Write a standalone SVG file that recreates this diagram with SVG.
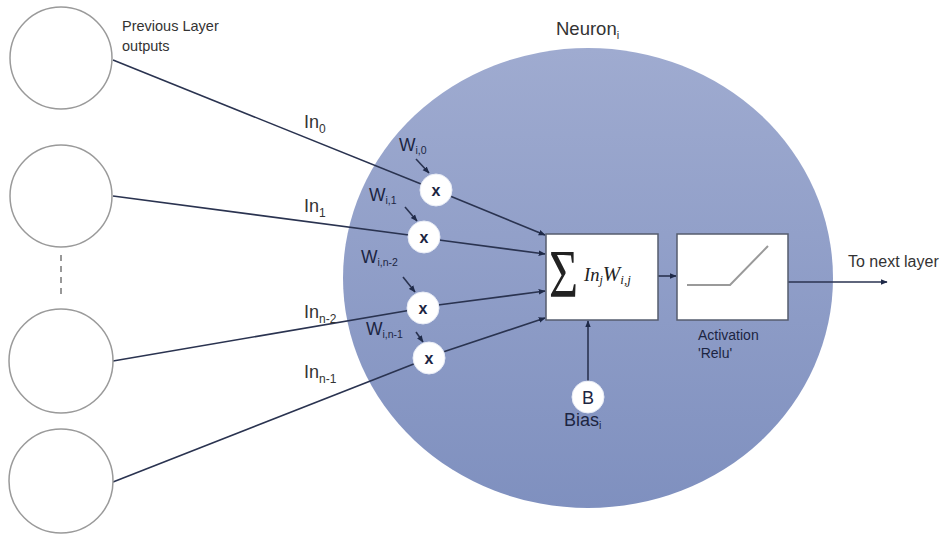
<svg xmlns="http://www.w3.org/2000/svg" width="947" height="535" viewBox="0 0 947 535">
  <defs>
    <linearGradient id="bodyFill" x1="0" y1="0" x2="0" y2="1">
      <stop offset="0" stop-color="#9fabd0"/>
      <stop offset="1" stop-color="#7f90bf"/>
    </linearGradient>
    <marker id="arrow" viewBox="0 0 10 10" refX="9" refY="5" markerWidth="7" markerHeight="7" orient="auto" markerUnits="userSpaceOnUse">
      <path d="M0,1 L10,5 L0,9 z" fill="#1f2a48"/>
    </marker>
    <style>
      .src { fill: #ffffff; stroke: #9a9a9a; stroke-width: 1.5; }
      .wire { fill: none; stroke: #2a3350; stroke-width: 1.6; }
      .mul { fill: #ffffff; stroke: #e8ecf6; stroke-width: 1; }
      .box { fill: #ffffff; stroke: #555c6e; stroke-width: 1.5; }
      .lbl { font-family: "Liberation Sans", Arial, sans-serif; fill: #333333; }
      .inner { font-family: "Liberation Sans", Arial, sans-serif; fill: #1c2542; }
      .math { font-family: "Liberation Serif", "Times New Roman", serif; fill: #222222; }
    </style>
  </defs>

  <!-- neuron body -->
  <g id="neuron-body">
    <ellipse cx="588" cy="278" rx="245" ry="230" fill="url(#bodyFill)"/>
    <text class="lbl" x="556" y="35" font-size="18.5" fill="#444">Neuron<tspan font-size="11" dy="4">i</tspan></text>
  </g>

  <!-- connectors -->
  <g id="connectors">
    <!-- inputs into multipliers -->
    <line class="wire" x1="113" y1="60" x2="436" y2="190"/>
    <line class="wire" x1="113" y1="196" x2="424" y2="237"/>
    <line class="wire" x1="113" y1="361" x2="423" y2="308"/>
    <line class="wire" x1="113" y1="482" x2="429" y2="358"/>
    <!-- multipliers into summation -->
    <line class="wire" x1="450" y1="196" x2="545" y2="235" marker-end="url(#arrow)"/>
    <line class="wire" x1="439" y1="240" x2="545" y2="254" marker-end="url(#arrow)"/>
    <line class="wire" x1="438" y1="305" x2="545" y2="291" marker-end="url(#arrow)"/>
    <line class="wire" x1="443" y1="352" x2="545" y2="318" marker-end="url(#arrow)"/>
    <!-- weights into multipliers -->
    <line class="wire" x1="416" y1="159" x2="429" y2="173" marker-end="url(#arrow)"/>
    <line class="wire" x1="405" y1="207" x2="417" y2="221" marker-end="url(#arrow)"/>
    <line class="wire" x1="403" y1="277" x2="415" y2="292" marker-end="url(#arrow)"/>
    <line class="wire" x1="416" y1="332" x2="423" y2="342" marker-end="url(#arrow)"/>
    <!-- summation to activation -->
    <line class="wire" x1="658" y1="276" x2="676" y2="276" marker-end="url(#arrow)"/>
    <!-- bias -->
    <line class="wire" x1="588" y1="381" x2="588" y2="321" marker-end="url(#arrow)"/>
    <!-- output -->
    <line class="wire" x1="788" y1="282" x2="887" y2="282" marker-end="url(#arrow)"/>
    <!-- ellipsis between source nodes -->
    <line x1="61" y1="255" x2="61" y2="296" stroke="#777" stroke-width="1.5" stroke-dasharray="6,5"/>
  </g>

  <!-- previous layer outputs -->
  <g id="src-0">
    <circle class="src" cx="61" cy="58" r="51"/>
    <text class="lbl" x="122" y="31" font-size="14.5" fill="#444">Previous Layer</text>
    <text class="lbl" x="122" y="51" font-size="14.5" fill="#444">outputs</text>
  </g>
  <g id="src-1"><circle class="src" cx="61" cy="196" r="51"/></g>
  <g id="src-n-2"><circle class="src" cx="61" cy="361" r="52"/></g>
  <g id="src-n-1"><circle class="src" cx="61" cy="481" r="52"/></g>

  <!-- input labels -->
  <g id="input-labels">
    <text class="lbl" x="304" y="128" font-size="18">In<tspan font-size="12" dy="5">0</tspan></text>
    <text class="lbl" x="304" y="212" font-size="18">In<tspan font-size="12" dy="5">1</tspan></text>
    <text class="lbl" x="304" y="318" font-size="18">In<tspan font-size="12" dy="5">n-2</tspan></text>
    <text class="lbl" x="304" y="378" font-size="18">In<tspan font-size="12" dy="5">n-1</tspan></text>
  </g>

  <!-- weight labels -->
  <g id="weight-labels">
    <text class="inner" x="399" y="151" font-size="17.5">W<tspan font-size="10.5" dy="3">i,0</tspan></text>
    <text class="inner" x="369" y="201" font-size="17.5">W<tspan font-size="10.5" dy="3">i,1</tspan></text>
    <text class="inner" x="361" y="263" font-size="17.5">W<tspan font-size="10.5" dy="3">i,n-2</tspan></text>
    <text class="inner" x="366" y="335" font-size="17.5">W<tspan font-size="10.5" dy="3">i,n-1</tspan></text>
  </g>

  <!-- multipliers -->
  <g id="mul-0">
    <circle class="mul" cx="436" cy="190" r="16"/>
    <text class="inner" x="436" y="196" font-size="16" font-weight="bold" text-anchor="middle">x</text>
  </g>
  <g id="mul-1">
    <circle class="mul" cx="424" cy="237" r="16"/>
    <text class="inner" x="424" y="243" font-size="16" font-weight="bold" text-anchor="middle">x</text>
  </g>
  <g id="mul-n-2">
    <circle class="mul" cx="423" cy="308" r="16"/>
    <text class="inner" x="423" y="314" font-size="16" font-weight="bold" text-anchor="middle">x</text>
  </g>
  <g id="mul-n-1">
    <circle class="mul" cx="429" cy="358" r="16"/>
    <text class="inner" x="429" y="364" font-size="16" font-weight="bold" text-anchor="middle">x</text>
  </g>

  <!-- weighted sum -->
  <g id="sum">
    <rect class="box" x="546" y="234" width="112" height="86"/>
    <text class="math" transform="translate(549,296) scale(0.78,1.05)" font-size="64">Σ</text>
    <text class="math" x="584" y="281" font-size="18.5" font-style="italic" fill="#333">In<tspan font-size="12" dy="3">j</tspan><tspan dy="-3" font-size="21">W</tspan><tspan font-size="13" dy="3">i,j</tspan></text>
  </g>

  <!-- activation -->
  <g id="activation">
    <rect class="box" x="677" y="234" width="111" height="86"/>
    <polyline points="687,285 730,285 768,246" fill="none" stroke="#9a9a9a" stroke-width="2"/>
    <text class="inner" x="698" y="340" font-size="14" fill="#2f3a5a">Activation</text>
    <text class="inner" x="698" y="358" font-size="14" fill="#2f3a5a">'Relu'</text>
  </g>

  <!-- bias -->
  <g id="bias">
    <circle class="mul" cx="588" cy="397" r="16"/>
    <text class="inner" x="588" y="404" font-size="18" text-anchor="middle">B</text>
    <text class="inner" x="564" y="426" font-size="18">Bias<tspan font-size="10.5" dy="3">i</tspan></text>
  </g>

  <!-- output label -->
  <g id="output">
    <text class="lbl" x="848" y="267" font-size="16">To next layer</text>
  </g>
</svg>
